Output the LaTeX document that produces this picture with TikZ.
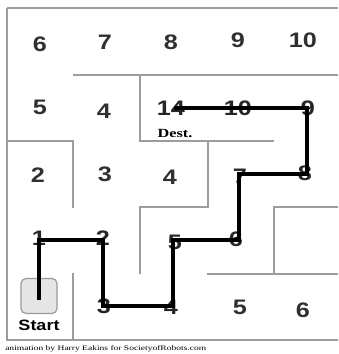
\documentclass[tikz,border=0pt]{standalone}
\usepackage{fontspec}
\setmainfont{Liberation Serif}
\newfontfamily\numfont{Liberation Sans}
\definecolor{wallgray}{HTML}{9C9C9C}
\definecolor{numgray}{HTML}{303030}
\definecolor{startfill}{HTML}{E6E6E6}
\definecolor{startline}{HTML}{9A9A9A}
\begin{document}
\begin{tikzpicture}[x=1pt,y=-1pt,
  wall/.style={draw=wallgray,line width=1.4pt},
  route/.style={draw=black,line width=3.2pt,line join=miter,line cap=rect},
  cell/.style={font=\numfont\fontsize{21}{21}\selectfont\bfseries,text=numgray,xscale=1.2,inner sep=0pt},
  pathnum/.style={cell,text=black!85},
  startbox/.style={draw=startline,fill=startfill,rounded corners=5pt,line width=1.2pt,minimum width=36pt,minimum height=35pt},
  startlbl/.style={font=\numfont\fontsize{15}{15}\selectfont\bfseries,xscale=1.2,inner sep=0pt},
  destlbl/.style={font=\fontsize{12.5}{12.5}\selectfont\bfseries,xscale=1.3,inner sep=0pt},
  caption/.style={font=\fontsize{7}{7}\selectfont,xscale=1.36,inner sep=0pt,anchor=west}]
\useasboundingbox (0,0) rectangle (338,354);
% walls
\draw[wall] (7,8) -- (338,8);
\draw[wall] (7,8) -- (7,340) -- (338,340);
\draw[wall] (73,75) -- (338,75);
\draw[wall] (140,75) -- (140,141) -- (274,141);
\draw[wall] (7,141) -- (73,141) -- (73,208);
\draw[wall] (73,273) -- (73,340);
\draw[wall] (208,141) -- (208,207) -- (140,207) -- (140,274);
\draw[wall] (338,207) -- (274,207) -- (274,274);
\draw[wall] (207,274) -- (338,274);
% start box
\node[startbox] (start) at (39,296) {};
\node[startlbl] (startlabel) at (39,325) {Start};
% off-path numbers
\node[cell] (r1a) at (40,44) {6};
\node[cell] (r1b) at (105,42) {7};
\node[cell] (r1c) at (171,42) {8};
\node[cell] (r1d) at (238,40) {9};
\node[cell] (r1e) at (303,40) {10};
\node[cell] (r2a) at (40,107) {5};
\node[cell] (r2b) at (104,111) {4};
\node[cell] (r3a) at (38,175) {2};
\node[cell] (r3b) at (105,174) {3};
\node[cell] (r3c) at (170,177) {4};
\node[cell] (r5c) at (240,307) {5};
\node[cell] (r5d) at (303,310) {6};
\node[destlbl] (dest) at (175,133) {Dest.};
% path numbers
\node[pathnum] (n1) at (39,238) {1};
\node[pathnum] (n2) at (103,238) {2};
\node[pathnum] (n3) at (104,306) {3};
\node[pathnum] (n4) at (171,307) {4};
\node[pathnum] (n5) at (175,242) {5};
\node[pathnum] (n6) at (236,239) {6};
\node[pathnum] (n7) at (240,176) {7};
\node[pathnum] (n8) at (305,173) {8};
\node[pathnum] (n9) at (308,108) {9};
\node[pathnum] (n10) at (238,108) {10};
\node[pathnum] (n14) at (171,108) {14};
% route
\coordinate (s) at (39,298);
\coordinate (p1) at (39,240);
\coordinate (p2) at (103,240);
\coordinate (p3) at (103,306);
\coordinate (p4) at (173,306);
\coordinate (p5) at (173,240);
\coordinate (p6) at (239,240);
\coordinate (p7) at (239,174);
\coordinate (p8) at (307,174);
\coordinate (p9) at (307,108);
\coordinate (p10) at (176,108);
\draw[route] (s) -- (p1) -- (p2) -- (p3) -- (p4) -- (p5) -- (p6) -- (p7) -- (p8) -- (p9) -- (p10);
% caption
\node[caption] (credit) at (5,349) {animation by Harry Eakins for SocietyofRobots.com};
\end{tikzpicture}
\end{document}
